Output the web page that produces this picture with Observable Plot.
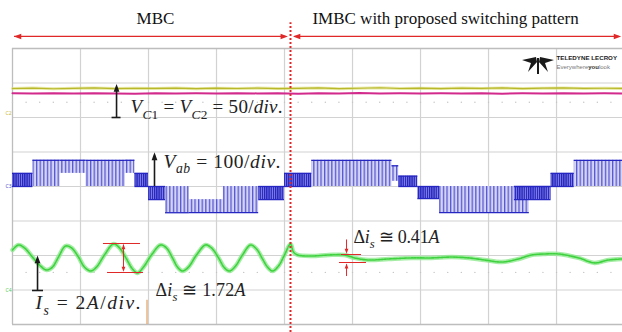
<!DOCTYPE html>
<html><head><meta charset="utf-8">
<script src="https://cdn.jsdelivr.net/npm/d3@7"></script>
<script src="https://cdn.jsdelivr.net/npm/@observablehq/plot@0.6"></script>
<style>
html,body{margin:0;padding:0;background:#fff;}
#chart svg{display:block;}
</style></head>
<body><div id="chart"></div>
<script>
// ---------------- DATA ----------------
// time axis: 5 ms/div
const gridTimes = [0, 5, 10, 15, 20, 25, 30, 35, 40];
const gridDivs = [0, 1, 2, 3, 4, 5, 6, 7, 8];

// capacitor voltages (V), 50 V/div
const vcTime = [0, 1.5, 3, 4.5, 6, 7.5, 9, 10.5, 12, 13.5, 15, 16.5, 18, 19.5, 21, 22.5, 24, 25.5, 27, 28.5, 30, 31.5, 33, 34.5, 36, 37.5, 39, 40.5, 42, 43.5, 44.85];
const vc1Volt = [36.0, 36.6, 35.7, 36.3, 36.8, 35.9, 36.4, 36.1, 36.7, 35.8, 36.5, 36.0, 36.6, 35.9, 36.3, 36.9, 35.8, 36.4, 37.1, 36.0, 36.5, 35.9, 36.6, 36.2, 36.8, 35.9, 36.5, 36.9, 36.1, 36.4, 36.2];
const vc2Volt = [29.1, 28.7, 29.2, 28.8, 29.3, 28.9, 28.6, 29.2, 28.8, 29.0, 28.7, 29.3, 28.9, 29.1, 28.6, 29.2, 28.9, 29.4, 28.8, 29.0, 28.7, 29.1, 28.9, 29.3, 28.6, 29.0, 28.8, 29.2, 28.9, 29.1, 28.8];

// line-to-line voltage Vab (V), 100 V/div : switching bands (start ms, end ms, low V, high V, kind)
const vabStart = [0.0, 1.5, 3.5, 5.4, 8.3, 9.0, 10.0, 11.25, 13.0, 15.5, 18.1, 20.0, 22.0, 27.9, 28.4, 29.8, 31.4, 36.9, 39.6, 41.3];
const vabEnd   = [1.5, 3.5, 5.4, 8.3, 9.0, 10.0, 11.25, 13.0, 15.5, 18.1, 20.0, 22.0, 27.9, 28.4, 29.8, 31.4, 38.0, 39.6, 41.3, 44.85];
const vabLow   = [0, 0, 38, 0, 38, 0, -38, -76, -76, -76, -38, 0, 0, 15, 0, -35, -76, -38, 0, 0];
const vabHigh  = [38, 76, 76, 76, 76, 38, 0, 0, -38, 0, 0, 38, 76, 60, 30, 0, 0, 0, 38, 76];
const vabKind  = ["dark","light","light","light","light","dark","dark","light","light","light","dark","dark","light","light","dark","dark","light","dark","dark","light"];

// source current Is (A), 2 A/div
const isTime = [0.00, 0.44, 0.88, 1.47, 2.06, 2.50, 2.94, 3.38, 3.90, 4.34, 4.85, 5.29, 5.74, 6.18, 6.76, 7.43, 7.87, 8.38, 8.82, 9.19, 9.63, 10.22, 10.88, 11.32, 11.76, 12.13, 12.50, 12.94, 13.53, 14.19, 14.63, 15.15, 15.59, 15.96, 16.40, 16.91, 17.50, 17.94, 18.38, 18.75, 19.12, 19.56, 20.00, 20.44, 20.66, 20.96, 21.99, 23.24, 24.41, 25.15, 26.18, 27.65, 29.34, 30.81, 32.28, 33.53, 34.71, 35.96, 37.21, 38.16, 39.19, 40.15, 41.62, 42.79, 43.82, 44.85];
const isAmp  = [2.32, 2.61, 2.44, 1.91, 1.39, 1.16, 1.33, 1.91, 2.55, 2.44, 1.91, 1.33, 1.10, 1.33, 2.03, 2.67, 2.44, 1.80, 1.22, 0.99, 1.33, 2.03, 2.61, 2.44, 1.86, 1.33, 1.10, 1.33, 2.03, 2.61, 2.44, 1.86, 1.28, 1.10, 1.39, 2.03, 2.61, 2.38, 1.80, 1.33, 1.10, 1.39, 2.03, 2.67, 2.20, 2.03, 1.97, 2.03, 2.03, 1.86, 1.74, 1.80, 1.86, 1.86, 1.91, 1.86, 1.74, 1.62, 1.80, 2.03, 2.09, 2.09, 1.86, 1.57, 1.74, 1.80];

// texts
const titleLeft = "MBC";
const titleRight = "IMBC with proposed switching pattern";
const labelVc = "V_{C1} = V_{C2} = 50/div.";
const labelVab = "V_{ab} = 100/div.";
const labelIs = "I_{s} = 2A/div.";
const labelDelta1 = "Δi_{s} ≅ 1.72A";
const labelDelta2 = "Δi_{s} ≅ 0.41A";

// ---------------- screen settings ----------------
const xMax = 44.85;                 // visible time span (ms), 5 ms/div
const vcZero = 6.12, vcPerDiv = 50; // channel offsets (div) and scales
const vabZero = 4.0, vabPerDiv = 100;
const isZero = 1.0, isPerDiv = 2;
const vcY = v => vcZero + v / vcPerDiv;
const vabY = v => vabZero + v / vabPerDiv;
const isY = a => isZero + a / isPerDiv;

const idx = d3.range(vabStart.length);
const lightIdx = idx.filter(i => vabKind[i] === "light");
const darkIdx = idx.filter(i => vabKind[i] === "dark");
const edgeVals = idx.map(i => vabHigh[i] > 0 ? vabHigh[i] : vabLow[i]);

// arrow-head symbol, tip at the origin, pointing up
const head = {draw(ctx, size) { const r = Math.sqrt(size / Math.PI); ctx.moveTo(0, 0); ctx.lineTo(-0.85 * r, 2.3 * r); ctx.lineTo(0.85 * r, 2.3 * r); ctx.closePath(); }};

const red = "#e02828", black = "#1a1a1a";
const dotTimes = d3.range(0, 45, 1);
const mathFont = "Liberation Serif";
const mathText = (label, x, y, size, width) => Plot.text([label], {x, y, text: d => d, textAnchor: "start", lineAnchor: "bottom", fontFamily: mathFont, fontSize: size, fill: "#222", ariaDescription: "math:" + width});

const svg = Plot.plot({
  width: 622, height: 332,
  marginLeft: 12, marginRight: 0, marginTop: 48, marginBottom: 8,
  x: {domain: [0, xMax], axis: null},
  y: {domain: [0, 8], axis: null},
  style: {background: "#fff", overflow: "visible"},
  marks: [
    // grid
    Plot.ruleX(gridTimes.slice(1), {stroke: "#d2d2d2", strokeWidth: 1.2}),
    Plot.ruleY(gridDivs.slice(1, -1), {stroke: "#d2d2d2", strokeWidth: 1.2}),
    Plot.ruleX([0], {stroke: "#bdbdbd", strokeWidth: 1.3}),
    Plot.ruleY([0, 8], {stroke: "#bdbdbd", strokeWidth: 1.3}),
    Plot.dot(dotTimes, {x: d => d, y: 6.44, r: 0.7, fill: "#c4c4c4", stroke: null}),
    Plot.dot(dotTimes, {x: d => d, y: 1.51, r: 0.7, fill: "#c4c4c4", stroke: null}),
    // channel markers
    Plot.text(["C2"], {x: 0, y: vcZero, text: d => d, textAnchor: "end", dx: -1, fontSize: 5, fill: "#c9b93a"}),
    Plot.text(["C3"], {x: 0, y: vabZero, text: d => d, textAnchor: "end", dx: -1, fontSize: 5, fill: "#4b4bd0"}),
    Plot.text(["C4"], {x: 0, y: isZero, text: d => d, textAnchor: "end", dx: -1, fontSize: 5, fill: "#52cc52"}),
    // Vab switching bands
    Plot.rect(lightIdx, {x1: i => vabStart[i], x2: i => vabEnd[i], y1: i => vabY(vabLow[i]), y2: i => vabY(vabHigh[i]), fill: "#c9c9f2", ariaDescription: "vab-light"}),
    Plot.rect(darkIdx, {x1: i => vabStart[i], x2: i => vabEnd[i], y1: i => vabY(vabLow[i]), y2: i => vabY(vabHigh[i]), fill: "#4040cc", ariaDescription: "vab-dark"}),
    Plot.ruleY(idx, {y: i => vabY(edgeVals[i]), x1: i => vabStart[i], x2: i => vabEnd[i], stroke: "#2626c2", strokeWidth: 1.3}),
    Plot.ruleY(darkIdx, {y: vabZero, x1: i => vabStart[i], x2: i => vabEnd[i], stroke: "#2626c2", strokeWidth: 1.3}),
    // capacitor voltages
    Plot.line(vcTime, {x: vcTime, y: vc1Volt.map(vcY), stroke: "#d8d86a", strokeWidth: 3, strokeOpacity: 0.6}),
    Plot.line(vcTime, {x: vcTime, y: vc1Volt.map(vcY), stroke: "#b8b82a", strokeWidth: 1.2}),
    Plot.line(vcTime, {x: vcTime, y: vc2Volt.map(vcY), stroke: "#d22a8c", strokeWidth: 2}),
    // source current
    Plot.line(isTime, {x: isTime, y: isAmp.map(isY), curve: "catmull-rom", stroke: "#8ee88e", strokeWidth: 4.5, strokeOpacity: 0.8}),
    Plot.line(isTime, {x: isTime, y: isAmp.map(isY), curve: "catmull-rom", stroke: "#3fd23f", strokeWidth: 1.6, strokeDasharray: "2,1"}),
    // separator
    Plot.ruleX([20.44], {y1: -0.23, y2: 8.75, stroke: red, strokeWidth: 2, strokeDasharray: "2,2"}),
    // top red double arrows
    Plot.ruleY([8.35], {x1: 0.15, x2: 20.1, stroke: red, strokeWidth: 1.3}),
    Plot.ruleY([8.35], {x1: 20.75, x2: 44.6, stroke: red, strokeWidth: 1.3}),
    Plot.dot([[0.1, -90], [20.25, 90], [20.62, -90], [44.75, 90]], {x: d => d[0], y: 8.35, rotate: d => d[1], symbol: head, r: 3.2, fill: red, stroke: null}),
    // titles
    Plot.text([titleLeft], {x: 10.51, y: 8.70, text: d => d, lineAnchor: "bottom", fontFamily: "Liberation Serif", fontSize: 17, fill: "#111"}),
    Plot.text([titleRight], {x: 31.84, y: 8.70, text: d => d, lineAnchor: "bottom", fontFamily: "Liberation Serif", fontSize: 17, fill: "#111"}),
    // logo text
    Plot.text(["TELEDYNE LECROY"], {x: 40.0, y: 7.67, text: d => d, textAnchor: "start", lineAnchor: "bottom", fontFamily: "Liberation Sans", fontWeight: "bold", fontSize: 6.2, fill: "#222"}),
    Plot.text(["Everywhereyoulook"], {x: 40.0, y: 7.40, text: d => d, textAnchor: "start", lineAnchor: "bottom", fontFamily: "Liberation Sans", fontSize: 6, fill: "#777", ariaDescription: "logo-tag"}),
    // scale arrows (black)
    Plot.ruleX([7.65], {y1: 6.0, y2: 6.85, stroke: black, strokeWidth: 1.6}),
    Plot.ruleY([6.0], {x1: 7.32, x2: 7.98, stroke: black, strokeWidth: 1.6}),
    Plot.ruleX([10.44], {y1: 4.0, y2: 4.88, stroke: black, strokeWidth: 1.6}),
    Plot.ruleX([1.84], {y1: 0.986, y2: 1.88, stroke: black, strokeWidth: 1.6}),
    Plot.ruleY([0.986], {x1: 1.47, x2: 2.28, stroke: black, strokeWidth: 1.6}),
    Plot.dot([[7.65, 6.97], [10.44, 4.99], [1.84, 2.0]], {x: d => d[0], y: d => d[1], symbol: head, r: 3.4, fill: black, stroke: null}),
    // ripple measurement (left)
    Plot.ruleY([2.348], {x1: 6.69, x2: 9.41, stroke: red, strokeWidth: 1}),
    Plot.ruleY([1.507], {x1: 6.99, x2: 9.63, stroke: red, strokeWidth: 1}),
    Plot.ruleX([8.16], {y1: 1.56, y2: 2.30, stroke: red, strokeWidth: 1}),
    Plot.dot([[8.16, 2.33, 0], [8.16, 1.53, 180]], {x: d => d[0], y: d => d[1], rotate: d => d[2], symbol: head, r: 2.2, fill: red, stroke: null}),
    // ripple measurement (right)
    Plot.ruleX([24.56], {y1: 2.1, y2: 2.45, stroke: red, strokeWidth: 1}),
    Plot.ruleX([24.56], {y1: 1.39, y2: 1.73, stroke: red, strokeWidth: 1}),
    Plot.ruleY([2.029], {x1: 24.19, x2: 25.66, stroke: red, strokeWidth: 1}),
    Plot.ruleY([1.797], {x1: 24.04, x2: 26.03, stroke: red, strokeWidth: 1}),
    Plot.dot([[24.56, 2.05, 180], [24.56, 1.77, 0]], {x: d => d[0], y: d => d[1], rotate: d => d[2], symbol: head, r: 2.2, fill: red, stroke: null}),
    // trigger marker
    Plot.ruleX([9.89], {y1: 0, y2: 0.7, stroke: "#e0a060", strokeWidth: 1.2}),
    // math labels
    mathText(labelVc, 8.68, 6.116, 19, 152),
    mathText(labelVab, 11.10, 4.55, 19.5, 117),
    mathText(labelIs, 1.69, 0.435, 19.5, 105),
    mathText(labelDelta1, 10.51, 0.84, 18, 90),
    mathText(labelDelta2, 25.07, 2.35, 18, 86)
  ]
});

// ---------------- decoration / styling ----------------
const NS = "http://www.w3.org/2000/svg";
const root = d3.select(svg);
const byDesc = test => root.selectAll("g").filter(function() { const a = this.getAttribute("aria-description"); return a != null && test(a); });

const defs = document.createElementNS(NS, "defs");
defs.innerHTML =
  '<pattern id="pwmLight" patternUnits="userSpaceOnUse" width="3.6" height="10">' +
  '<rect width="3.6" height="10" fill="#d4d4f5"/><rect x="0" width="1.3" height="10" fill="#5656d4"/></pattern>' +
  '<pattern id="pwmDark" patternUnits="userSpaceOnUse" width="2.2" height="10">' +
  '<rect width="2.2" height="10" fill="#8686e4"/><rect x="0" width="1.3" height="10" fill="#2222c0"/></pattern>';
svg.insertBefore(defs, svg.firstChild);
byDesc(a => a === "vab-light").selectAll("rect").attr("fill", "url(#pwmLight)");
byDesc(a => a === "vab-dark").selectAll("rect").attr("fill", "url(#pwmDark)");

// math formatting: letters italic, _{...} subscripts, widths fitted to the reference
byDesc(a => a.startsWith("math:")).each(function() {
  const width = +this.getAttribute("aria-description").slice(5);
  const fs = parseFloat(this.getAttribute("font-size")) || 18;
  d3.select(this).selectAll("text").each(function() {
    const src = this.textContent;
    this.textContent = "";
    const segs = [];
    for (let i = 0; i < src.length;) {
      if (src[i] === "_" && src[i + 1] === "{") {
        const j = src.indexOf("}", i);
        for (const ch of src.slice(i + 2, j)) segs.push({ch, sub: true});
        i = j + 1;
      } else { segs.push({ch: src[i], sub: false}); i++; }
    }
    const groups = [];
    let cur = null;
    for (const s of segs) {
      const it = /[A-Za-z]/.test(s.ch);
      if (!cur || cur.it !== it || cur.sub !== s.sub) { cur = {it, sub: s.sub, text: ""}; groups.push(cur); }
      cur.text += s.ch;
    }
    let prevSub = false;
    const shift = fs * 0.28;
    for (const g of groups) {
      const t = document.createElementNS(NS, "tspan");
      if (g.it) t.setAttribute("font-style", "italic");
      if (g.sub !== prevSub) t.setAttribute("dy", g.sub ? shift : -shift);
      if (g.sub) t.setAttribute("font-size", fs * 0.7);
      prevSub = g.sub;
      t.textContent = g.text;
      this.appendChild(t);
    }
    this.setAttribute("textLength", width);
    this.setAttribute("lengthAdjust", "spacing");
  });
});

// logo tagline: bold "you"
byDesc(a => a === "logo-tag").selectAll("text").each(function() {
  this.textContent = "";
  [["Everywhere", null], ["you", "bold"], ["look", null]].forEach(([p, w]) => {
    const t = document.createElementNS(NS, "tspan");
    if (w) { t.setAttribute("font-weight", w); t.setAttribute("fill", "#333"); }
    t.textContent = p; this.appendChild(t);
  });
});

// Teledyne emblem (decorative)
root.append("path")
  .attr("transform", "translate(522,56)")
  .attr("fill", "#1a1a1a")
  .attr("d", "M0,4 L14,1 L15,6 L6,16 L9,7 Z M32,4 L18,1 L17,6 L26,16 L23,7 Z M15,2 L17,2 L17,18 L15,18 Z");

document.getElementById("chart").appendChild(svg);
</script>
</body></html>
